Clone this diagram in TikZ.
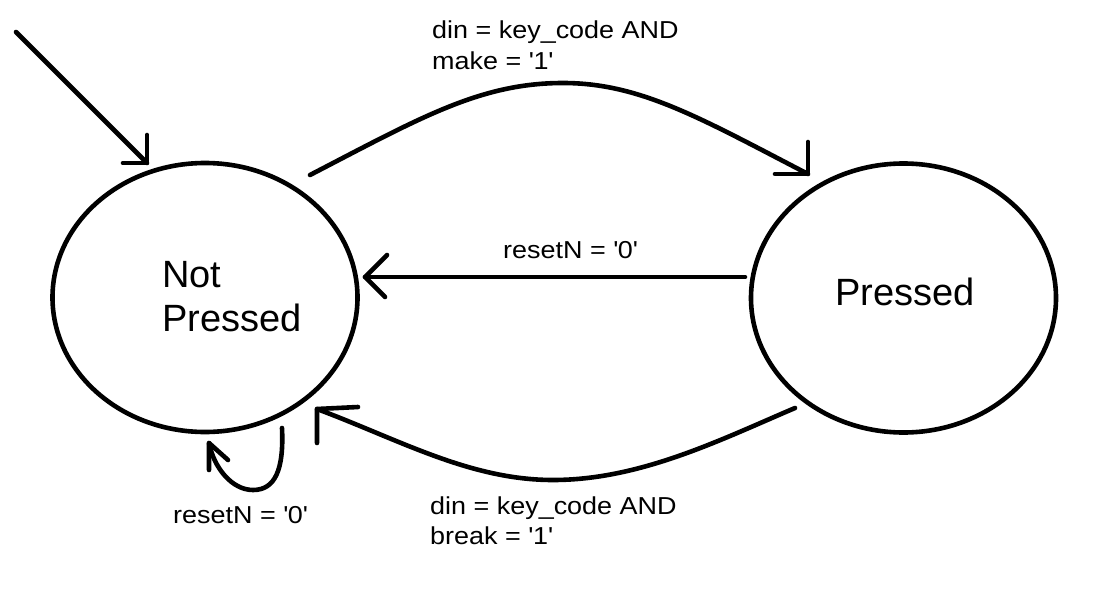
\documentclass[tikz,border=0pt]{standalone}
\usepackage{fontspec}
\setmainfont{Liberation Sans}
\newfontfamily\lblfont{Liberation Sans}[FakeStretch=1.1]
\usetikzlibrary{shapes.geometric}
\begin{document}
\begin{tikzpicture}[x=1pt,y=-1pt,
  state/.style={draw, ellipse, line width=4.6pt, minimum width=305pt, minimum height=269pt, inner sep=0pt, outer sep=0pt},
  wire/.style={line width=4.6pt, line cap=round, line join=round},
  big/.style={font=\fontsize{38}{44}\selectfont, inner sep=0pt, align=left, text depth=0pt},
  lbl/.style={font=\lblfont\fontsize{24.5}{31}\selectfont, inner sep=0pt, align=left, text depth=0pt}]
\useasboundingbox (0,0) rectangle (1097,599);
% states
\node[state] (np) at (205,297.5) {};
\node[state] (pr) at (903.5,298) {};
\node[big, anchor=south west] (nptxt) at (162,332) {Not\\Pressed};
\node[big, anchor=base] (prtxt) at (905,305) {Pressed};
% connector end points
\coordinate (init) at (16,32);
\coordinate (initTip) at (147,163);
\coordinate (mkStart) at (310,175);
\coordinate (mkTip) at (808,174);
\coordinate (rsStart) at (745,277);
\coordinate (rsTip) at (365,277);
\coordinate (brStart) at (795,408);
\coordinate (brTip) at (317,409);
\coordinate (lpStart) at (282,428);
\coordinate (lpTip) at (209,443);
% initial arrow
\draw[wire] (init) -- (initTip);
\draw[wire] (147,135) -- (initTip) -- (123,163);
% make arc
\draw[wire] (mkStart) .. controls (420,118) and (480,83) .. (563,83)
  .. controls (640,83) and (700,118) .. (mkTip);
\draw[wire] (808,142) -- (mkTip) -- (775,174);
% reset arrow
\draw[wire] (rsStart) -- (rsTip);
\draw[wire] (387,255) -- (rsTip) -- (385,297);
% break arc
\draw[wire] (brStart) .. controls (720,440) and (640,480) .. (553,480)
  .. controls (470,480) and (400,440) .. (brTip);
\draw[wire] (317,443) -- (brTip) -- (358,407);
% self loop
\draw[wire] (lpStart) .. controls (284,470) and (275,490) .. (253,490)
  .. controls (232,490) and (214,468) .. (lpTip);
\draw[wire] (209,470) -- (lpTip) -- (228,460);
% labels
\node[lbl, anchor=south west] (mklbl) at (432,70) {din = key\_code AND\\make = \textquotesingle1\textquotesingle};
\node[lbl, anchor=base west] (rslbl) at (503,258) {resetN = \textquotesingle0\textquotesingle};
\node[lbl, anchor=south west] (brlbl) at (430,545) {din = key\_code AND\\[-1pt]break = \textquotesingle1\textquotesingle};
\node[lbl, anchor=base west] (lplbl) at (173,523) {resetN = \textquotesingle0\textquotesingle};
\end{tikzpicture}
\end{document}
